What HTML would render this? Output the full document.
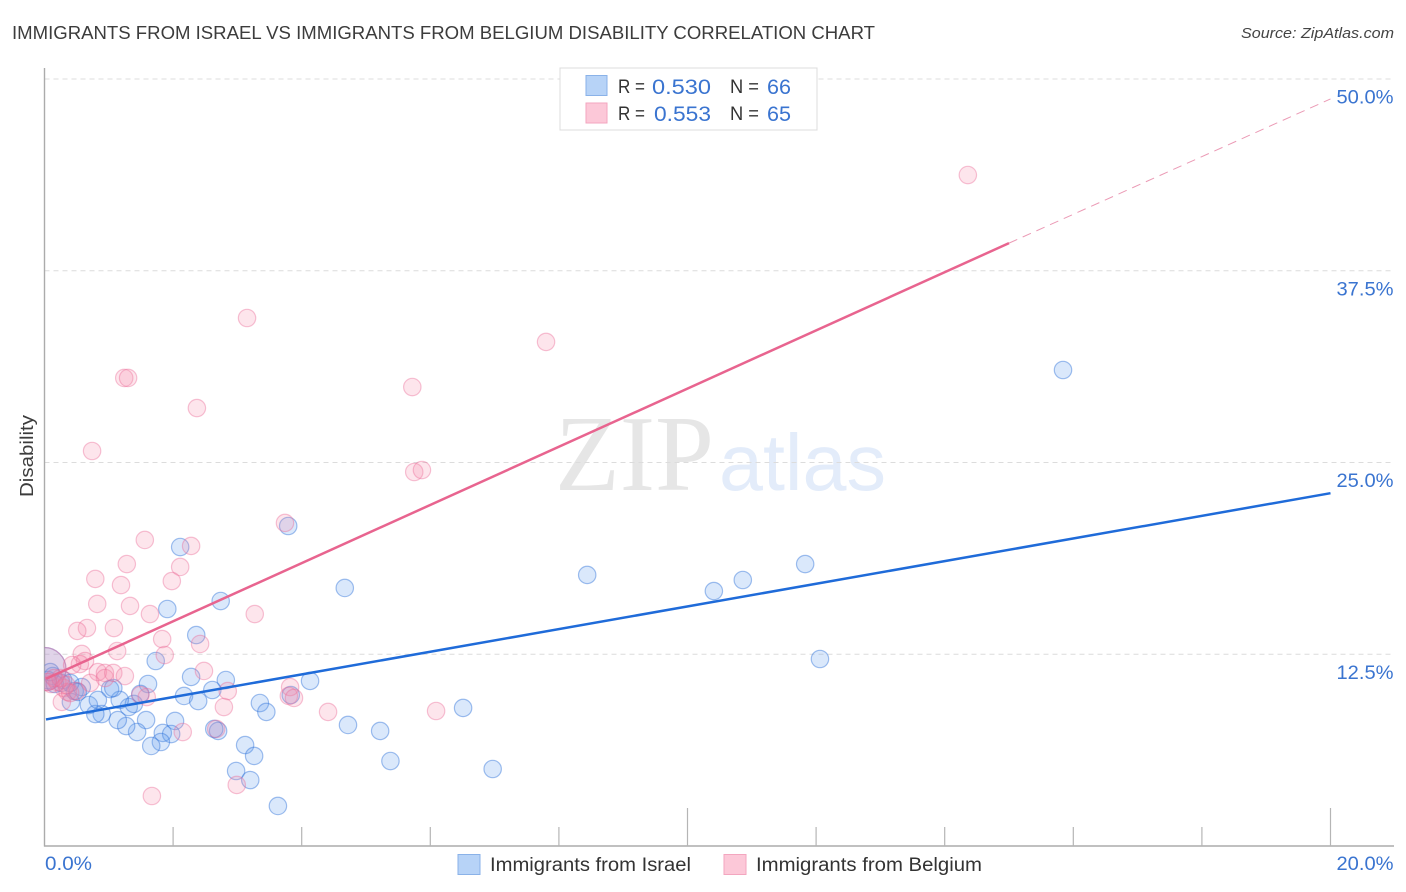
<!DOCTYPE html>
<html lang="en">
<head>
<meta charset="utf-8">
<title>Immigrants from Israel vs Immigrants from Belgium Disability Correlation Chart</title>
<style>
  html, body { margin: 0; padding: 0; background: #fff; }
  body { width: 1406px; height: 892px; overflow: hidden; }
  svg { display: block; font-family: "Liberation Sans", sans-serif; }
</style>
</head>
<body>
<svg id="chart" xmlns="http://www.w3.org/2000/svg" width="1406" height="892" viewBox="0 0 1406 892">
  <defs>
    <clipPath id="plot-clip"><rect x="44.5" y="60" width="1350" height="786"></rect></clipPath>
  </defs>
  <rect x="0" y="0" width="1406" height="892" fill="#fff"></rect>

  <text x="12" y="39" font-size="18.5" fill="#3c3c3c" textLength="863" lengthAdjust="spacingAndGlyphs">IMMIGRANTS FROM ISRAEL VS IMMIGRANTS FROM BELGIUM DISABILITY CORRELATION CHART</text>
  <text x="1394" y="38" font-size="15" font-style="italic" fill="#444" text-anchor="end" textLength="153" lengthAdjust="spacingAndGlyphs">Source: ZipAtlas.com</text>

  <g>
    <text x="555" y="490" font-family="'Liberation Serif', serif" font-size="108" fill="#e6e6e6" textLength="159" lengthAdjust="spacingAndGlyphs">ZIP</text>
    <text x="719" y="490" font-size="80" fill="#e3ecfa" textLength="167" lengthAdjust="spacingAndGlyphs">atlas</text>
  </g>

  <g id="grid"></g>
  <g id="axes"></g>
  <g id="points" clip-path="url(#plot-clip)"></g>
  <g id="trends"></g>
  <g id="labels"></g>

  <text x="0" y="0" transform="translate(33,456) rotate(-90)" font-size="18" fill="#3c3c3c" text-anchor="middle" textLength="82" lengthAdjust="spacingAndGlyphs">Disability</text>

  <g>
    <rect x="560" y="68" width="257" height="62" fill="#fff" stroke="#dcdcdc" stroke-width="1"></rect>
    <rect x="586" y="75.5" width="21" height="20" fill="#b7d3f7" stroke="#8ab2e8" stroke-width="1"></rect>
    <text x="618" y="93" font-size="19" fill="#333" textLength="27" lengthAdjust="spacingAndGlyphs">R =</text>
    <text x="652" y="94" font-size="21" fill="#3a74d0" textLength="59" lengthAdjust="spacingAndGlyphs">0.530</text>
    <text x="730" y="93" font-size="19" fill="#333" textLength="29" lengthAdjust="spacingAndGlyphs">N =</text>
    <text x="767" y="94" font-size="21" fill="#3a74d0" textLength="24" lengthAdjust="spacingAndGlyphs">66</text>
    <rect x="586" y="103" width="21" height="20" fill="#fcc8d8" stroke="#f3a6bf" stroke-width="1"></rect>
    <text x="618" y="120" font-size="19" fill="#333" textLength="27" lengthAdjust="spacingAndGlyphs">R =</text>
    <text x="654" y="121" font-size="21" fill="#3a74d0" textLength="57" lengthAdjust="spacingAndGlyphs">0.553</text>
    <text x="730" y="120" font-size="19" fill="#333" textLength="29" lengthAdjust="spacingAndGlyphs">N =</text>
    <text x="767" y="121" font-size="21" fill="#3a74d0" textLength="24" lengthAdjust="spacingAndGlyphs">65</text>
  </g>

  <g>
    <rect x="458" y="854.5" width="22" height="20" fill="#b7d3f7" stroke="#8ab2e8" stroke-width="1"></rect>
    <text x="490" y="871" font-size="19" fill="#333" textLength="201" lengthAdjust="spacingAndGlyphs">Immigrants from Israel</text>
    <rect x="724" y="854.5" width="22" height="20" fill="#fcc8d8" stroke="#f3a6bf" stroke-width="1"></rect>
    <text x="756" y="871" font-size="19" fill="#333" textLength="226" lengthAdjust="spacingAndGlyphs">Immigrants from Belgium</text>
  </g>
</svg>

<script>
const israelX = [0.00,15.84,11.83,10.86,10.41,8.44,12.06,4.67,3.79,2.11,2.74,1.91,2.36,1.73,4.13,2.82,2.28,1.61,2.17,2.61,2.39,3.35,3.45,3.83,4.72,5.22,6.51,6.97,5.38,3.12,3.26,2.98,3.20,3.63,2.70,2.64,2.03,1.58,1.84,1.97,1.81,1.66,1.44,1.27,1.14,1.31,1.39,1.17,1.49,1.02,1.07,0.89,0.79,0.69,0.83,0.41,0.58,0.47,0.26,0.13,0.29,0.40,0.52,0.05,0.16,0.09];
const israelY = [11.54,31.03,18.38,17.34,16.62,17.67,12.19,16.82,20.86,19.49,15.97,15.45,13.75,12.06,10.76,10.82,11.02,10.56,9.78,10.17,9.45,9.32,8.74,9.84,7.89,7.50,9.00,5.02,5.54,6.58,5.87,4.89,4.30,2.61,7.50,7.63,8.15,8.21,7.37,7.30,6.78,6.52,7.43,7.82,8.21,9.06,9.26,9.52,9.91,10.23,10.30,8.60,8.60,9.19,9.52,9.39,10.36,10.10,10.63,11.08,10.82,10.63,10.04,10.82,10.56,11.34];
const belgiumX = [0.00,14.36,3.15,7.80,1.24,1.30,5.72,2.37,0.74,5.75,5.87,3.74,1.56,2.28,1.28,2.11,1.98,0.79,1.19,0.82,1.33,1.64,3.27,0.66,0.51,1.08,1.83,2.42,1.13,1.87,0.58,0.63,0.55,0.43,2.48,0.83,0.94,0.94,1.07,1.25,0.71,2.85,2.79,3.82,3.80,3.88,4.41,6.09,2.15,2.67,1.67,2.99,1.59,1.49,0.27,0.10,0.20,0.30,0.36,0.15,0.25,0.40,0.50,0.05,0.34];
const belgiumY = [11.54,43.74,34.42,32.86,30.51,30.51,29.92,28.55,25.75,24.38,24.51,21.06,19.95,19.56,18.38,18.19,17.27,17.41,17.01,15.78,15.65,15.12,15.12,14.21,14.02,14.21,13.49,13.17,12.71,12.45,12.52,12.06,11.86,11.80,11.41,11.34,11.28,10.95,11.28,11.08,10.63,10.10,9.06,10.36,9.78,9.65,8.74,8.80,7.43,7.63,3.26,3.98,9.71,9.84,9.39,10.56,10.69,10.30,10.04,10.95,10.95,9.97,10.10,10.69,10.50];
const israelTrendX = [0, 20];
const israelTrendY = [8.25, 23.0];
const belgiumTrendX = [0, 15];
const belgiumTrendY = [10.9, 39.3];
const belgiumProjectionX = [15, 20];
const belgiumProjectionY = [39.3, 48.7];
const yTicks = [12.5, 25, 37.5, 50];
const yTickLabels = ['12.5%', '25.0%', '37.5%', '50.0%'];
const xTicks = [2, 4, 6, 8, 10, 12, 14, 16, 18, 20];
const majorXTicks = [10, 20];
const xEndLabels = ['0.0%', '20.0%'];

const NS = 'http://www.w3.org/2000/svg';
const xScale = v => 44.5 + v * 64.3;
const yScale = v => 846 - v * 15.34;
function make(tag, parent, attrs, text) {
  const el = document.createElementNS(NS, tag);
  for (const k in attrs) el.setAttribute(k, attrs[k]);
  if (text !== undefined) el.textContent = text;
  parent.appendChild(el);
  return el;
}

const grid = document.getElementById('grid');
yTicks.forEach(v => {
  const line = make('line', grid, { x1: 44.5, x2: 1394, y1: yScale(v), y2: yScale(v), stroke: '#dcdcdc', 'stroke-width': 1, 'stroke-dasharray': '5 4' });
  
  
});

const axes = document.getElementById('axes');
const yAxis = make('line', axes, { x1: 44.5, x2: 44.5, y1: 68, y2: 846.5, stroke: '#ababab', 'stroke-width': 1.4 });


const xAxis = make('line', axes, { x1: 44, x2: 1394, y1: 846, y2: 846, stroke: '#ababab', 'stroke-width': 1.4 });


xTicks.forEach(v => {
  const top = majorXTicks.includes(v) ? 808 : 827;
  const tick = make('line', axes, { x1: xScale(v), x2: xScale(v), y1: top, y2: 846, stroke: '#b5b5b5', 'stroke-width': 1.2 });
  
  
});

const points = document.getElementById('points');
function drawSeries(xs, ys, fill, stroke, seriesName) {
  xs.forEach((x, i) => {
    const dot = make('circle', points, {
      cx: xScale(x), cy: yScale(ys[i]), r: i === 0 ? 21.5 : 8.7,
      fill: fill, stroke: stroke, 'stroke-width': 1.2
    });
    
    
  });
}
drawSeries(israelX, israelY, 'rgba(100,160,238,0.24)', 'rgba(48,116,218,0.45)', 'israel-point');
drawSeries(belgiumX, belgiumY, 'rgba(246,135,170,0.22)', 'rgba(236,105,150,0.40)', 'belgium-point');

const trends = document.getElementById('trends');
const israelTrend = make('line', trends, { x1: xScale(israelTrendX[0]) + 1.5, y1: yScale(israelTrendY[0]), x2: xScale(israelTrendX[1]), y2: yScale(israelTrendY[1]), stroke: '#1f6bd9', 'stroke-width': 2.5 });


const belgiumTrend = make('line', trends, { x1: xScale(belgiumTrendX[0]) + 1.5, y1: yScale(belgiumTrendY[0]), x2: xScale(belgiumTrendX[1]), y2: yScale(belgiumTrendY[1]), stroke: '#e8648f', 'stroke-width': 2.5 });


const belgiumProjection = make('line', trends, { x1: xScale(belgiumProjectionX[0]), y1: yScale(belgiumProjectionY[0]), x2: xScale(belgiumProjectionX[1]), y2: yScale(belgiumProjectionY[1]), stroke: '#eb9ab5', 'stroke-width': 1, 'stroke-dasharray': '9 6' });



const labels = document.getElementById('labels');
yTicks.forEach((v, i) => {
  const label = make('text', labels, { x: 1393.5, y: yScale(v) + 24.5, 'font-size': 19, fill: '#3a74d0', 'text-anchor': 'end', textLength: 57, lengthAdjust: 'spacingAndGlyphs' }, yTickLabels[i]);
  
  
});
const xStart = make('text', labels, { x: 45, y: 870, 'font-size': 19, fill: '#3a74d0', textLength: 47, lengthAdjust: 'spacingAndGlyphs' }, xEndLabels[0]);


const xEnd = make('text', labels, { x: 1393.5, y: 870, 'font-size': 19, fill: '#3a74d0', 'text-anchor': 'end', textLength: 57, lengthAdjust: 'spacingAndGlyphs' }, xEndLabels[1]);


</script>
</body>
</html>
